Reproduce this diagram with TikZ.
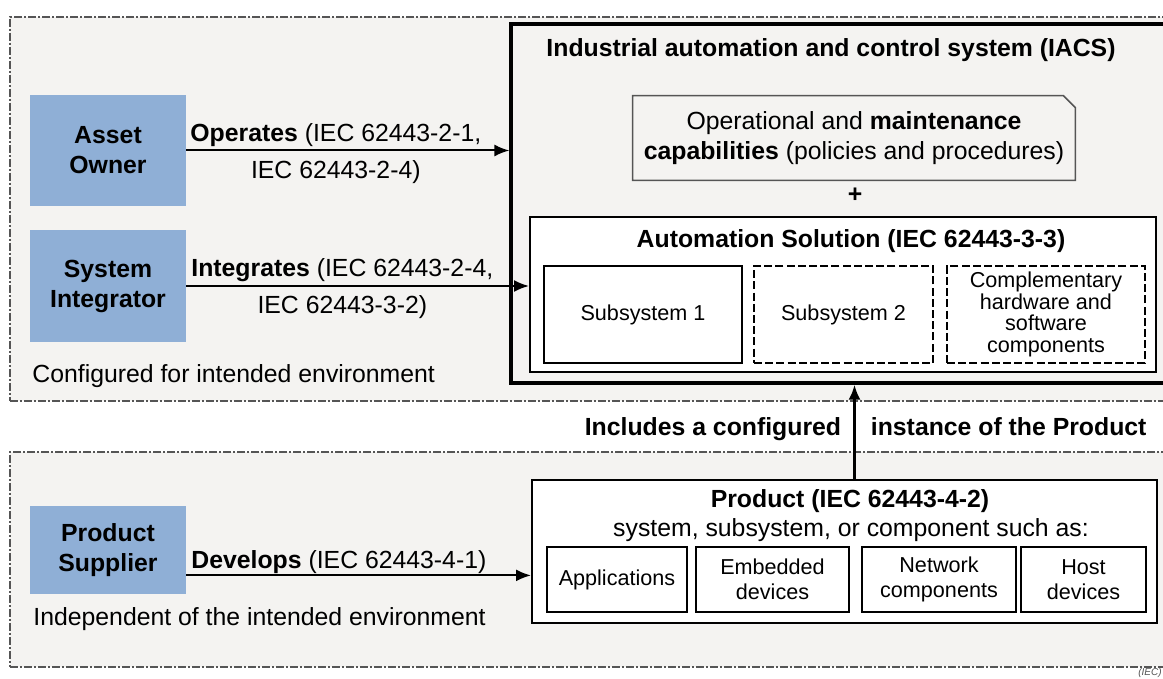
\documentclass[tikz,border=0pt]{standalone}
\usepackage{fontspec}
\setmainfont{Liberation Sans}
\usetikzlibrary{arrows.meta, positioning, fit, calc}
\definecolor{iecblue}{HTML}{8FAFD6}
\definecolor{iecpale}{HTML}{F4F3F1}
\definecolor{iecgrey}{HTML}{555555}
\newcommand\iectext{\fontsize{12.4}{15}\selectfont}
\newcommand\iecsmall{\fontsize{10.8}{12.5}\selectfont}
\tikzset{
  zone/.style={
    draw=iecgrey, fill=iecpale, line width=.6pt, inner sep=0pt,
    dash pattern=on 4pt off 1pt on 1pt off 1pt},
  role/.style={fill=iecblue, inner sep=0pt, align=center, font=\iectext\bfseries,
    minimum width=78pt},
  sysbox/.style={draw=black, fill=iecpale, line width=1.6pt, inner sep=0pt},
  frame/.style={draw=black, fill=white, line width=1pt, inner sep=0pt},
  part/.style={frame, align=center, font=\iecsmall, minimum height=48.5pt},
  optpart/.style={part, dash pattern=on 4pt off 1.6pt},
  heading/.style={font=\iectext\bfseries, inner sep=0pt, anchor=base},
  note/.style={font=\iectext, inner sep=0pt},
  flow/.style={-{Latex[length=7.5pt, width=6pt]}, line width=1pt},
}

\begin{document}
\begin{tikzpicture}[x=.5pt, y=-.5pt]
  \useasboundingbox (0,0) rectangle (1163,679);
  \fill[white] (0,0) rectangle (1163,679);
  % both environments run off the right edge of the figure
  \node[zone, fit={(10,17) (1175,401)}] (cfgzone) {};
  \node[zone, fit={(10,452) (1175,667)}] (indzone) {};

  \node[role, minimum height=55.5pt] (ao) at (108,150.5) {Asset\\Owner};
  \node[role, minimum height=56pt] (si) at (108,286) {System\\Integrator};
  \node[role, minimum height=44pt] (ps) at (108,550) {Product\\Supplier};
  \node[note, anchor=base west] (cfgnote) at (32,383) {Configured for intended environment};
  \node[note, anchor=base west] (indnote) at (33,625) {Independent of the intended environment};

  \node[sysbox, fit={(511,24) (1175,383)}] (iacs) {};
  \node[heading] (iacsttl) at (831,57) {Industrial automation and control system (IACS)};
  \node[note, align=center, minimum width=221pt, minimum height=42pt] (ops) at (854,138)
       {Operational and \textbf{maintenance}\\\textbf{capabilities} (policies and procedures)};
  \draw[iecgrey, line width=.8pt] (ops.south west) |- ([xshift=-6pt]ops.north east)
    -- ([yshift=-6pt]ops.north east) -- (ops.south east) -- cycle;
  \node[heading, anchor=center] (plus) at (855,195) {+};

  \node[frame, fit={(530,217) (1156,372)}] (sol) {};
  \node[heading] (solttl) at (851,248) {Automation Solution (IEC 62443-3-3)};
  \node[part, minimum width=99pt] (sub1) at (643,314.5) {Subsystem 1};
  \node[optpart, minimum width=89.5pt, right=5pt of sub1] (sub2) {Subsystem 2};
  \node[optpart, minimum width=99pt, right=6pt of sub2, font={\fontsize{10.8}{10.9}\selectfont}] (compl)
       {Complementary\\hardware and\\software\\components};

  \node[frame, fit={(532,480) (1157,623)}] (prod) {};
  \node[heading] (prodttl) at (850,508) {Product (IEC 62443-4-2)};
  \node[note, anchor=base] (prodsub) at (851,537) {system, subsystem, or component such as:};
  \node[part, minimum height=32.5pt, minimum width=70pt] (apps) at (617,579.5) {Applications};
  \node[part, minimum height=32.5pt, minimum width=76.5pt, right=3.5pt of apps] (emb) {Embedded\\devices};
  \node[part, minimum height=32.5pt, minimum width=77pt, right=5.5pt of emb] (net) {Network\\components};
  \node[part, minimum height=32.5pt, minimum width=62.5pt, right=1.5pt of net] (host) {Host\\devices};

  \draw[flow] (ao.east) -- (ao.east -| iacs.west)
    node[note, at start, anchor=base west, xshift=1.5pt, yshift=4.5pt] (oplbl)
    {\textbf{Operates} (IEC 62443-2-1,};
  \node[note, anchor=base] at ([yshift=-18.5pt]oplbl.base) {IEC 62443-2-4)};
  \draw[flow] (si.east) -- (si.east -| sol.west)
    node[note, at start, anchor=base west, xshift=2pt, yshift=4.5pt] (intlbl)
    {\textbf{Integrates} (IEC 62443-2-4,};
  \node[note, anchor=base] at ([yshift=-18.5pt]intlbl.base) {IEC 62443-3-2)};
  \coordinate (devstart) at ([yshift=9.5pt]ps.south east);
  \draw[flow] (devstart) -- (devstart -| prod.west)
    node[note, at start, anchor=base west, xshift=2pt, yshift=3.5pt] (devlbl)
    {\textbf{Develops} (IEC 62443-4-1)};
  \draw[flow, line width=1.4pt] ([xshift=5pt]prod.north) -- ([xshift=5pt]prod.north |- iacs.south)
    node[heading, pos=.46, anchor=base east, xshift=-6pt] {Includes a configured}
    node[heading, pos=.46, anchor=base west, xshift=7.5pt] {instance of the Product};

  \node[font={\fontsize{5}{6}\selectfont\itshape}, text=iecgrey, anchor=south east, inner sep=.5pt]
       (src) at (1163,679) {(IEC)};
\end{tikzpicture}
\end{document}
